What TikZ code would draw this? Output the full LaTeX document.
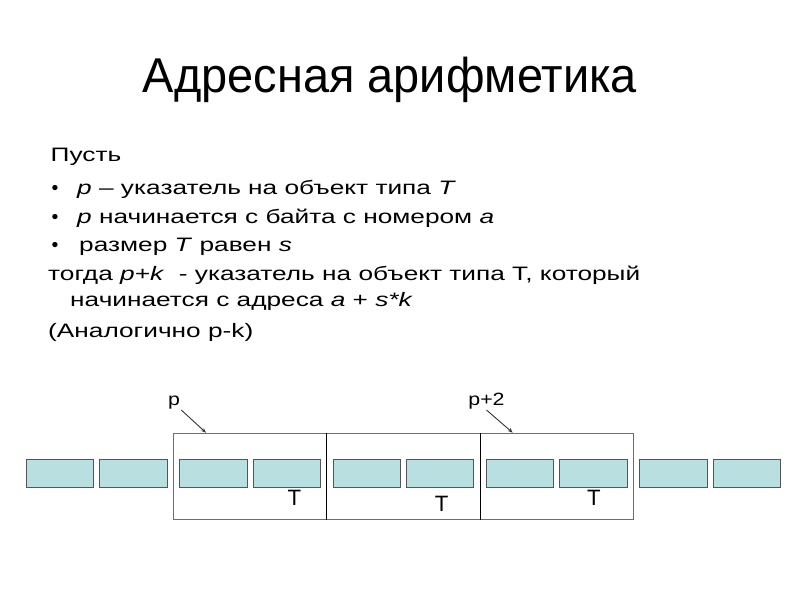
\documentclass[tikz,border=0pt]{standalone}
\usepackage{fontspec}
\setmainfont{Liberation Sans}
\newfontfamily\bodyfont[FakeStretch=1.35]{Liberation Sans}
\newfontfamily\labelfont[FakeStretch=1.2]{Liberation Sans}
\newfontfamily\titlefont[FakeStretch=0.96]{Liberation Sans}
\usetikzlibrary{arrows.meta}
\definecolor{cellfill}{HTML}{B9DFE1}
\definecolor{cellline}{HTML}{555555}
\definecolor{grpline}{HTML}{6E6E6E}
\tikzset{
  body/.style={anchor=base west,inner sep=0pt,font=\bodyfont\fontsize{17.5}{22}\selectfont},
  bul/.style={anchor=base,inner sep=0pt,font=\fontsize{17.5}{22}\selectfont},
  cell/.style={draw=cellline,line width=0.9pt,fill=cellfill,minimum width=60.5pt,minimum height=24.6pt,inner sep=0pt,anchor=north west},
  grp/.style={draw=grpline,line width=0.8pt,minimum width=138pt,minimum height=78pt,inner sep=0pt,anchor=north west},
  tlab/.style={anchor=base,inner sep=0pt,font=\fontsize{20}{24}\selectfont},
  plab/.style={anchor=base,inner sep=1pt,font=\labelfont\fontsize{16}{20}\selectfont},
  ptr/.style={draw=black!80,line width=0.8pt,-{Stealth[length=4.5pt,width=3.5pt]}}
}
\begin{document}
\begin{tikzpicture}[x=0.9pt,y=-0.9pt]
\useasboundingbox[fill=white] (0,0) rectangle (800,600);
% title
\node[anchor=base,inner sep=0pt,font=\titlefont\fontsize{44}{50}\selectfont] (title) at (390,92) {Адресная арифметика};
% body text
\node[body] (l1) at (50.5,161) {Пусть};
\node[bul] (d1) at (55,194) {•};
\node[body] (l2) at (77,194) {\textit{p} – указатель на объект типа \textit{T}};
\node[bul] (d2) at (55,223) {•};
\node[body] (l3) at (77,223) {\textit{p} начинается с байта с номером \textit{a}};
\node[bul] (d3) at (55,251) {•};
\node[body] (l4) at (79,251) {размер \textit{T} равен \textit{s}};
\node[body] (l5) at (48,280) {тогда \textit{p+k}\ \ - указатель на объект типа T, который};
\node[body] (l6) at (70,306) {начинается с адреса \textit{a} + \textit{s*k}};
\node[body] (l7) at (48,337) {(Аналогично p-k)};
% groups
\node[grp] (g1) at (172.7,432.7) {};
\node[grp] (g2) at (326.3,432.7) {};
\node[grp] (g3) at (479.9,432.7) {};
\draw[black,line width=0.9pt] (g1.north east) -- (g1.south east);
\draw[black,line width=0.9pt] (g2.north east) -- (g2.south east);
% cells
\foreach \i/\x in {1/26,2/99.3,3/179.3,4/252.7,5/332.7,6/406,7/486,8/559.3,9/639.3,10/712.7}{
  \node[cell] (c\i) at (\x,459.3) {};
}
% T labels
\node[tlab] (t1) at (294.5,505) {T};
\node[tlab] (t2) at (441.7,511.5) {T};
\node[tlab] (t3) at (594,505) {T};
% pointer labels
\node[plab] (pa) at (174,405) {p};
\node[plab] (pb) at (486.5,405) {p+2};
\coordinate (ha) at (206,432.7);
\coordinate (hb) at (512.7,432.7);
\draw[ptr] (pa.south east) -- (ha);
\draw[ptr] (pb.south) -- (hb);
\end{tikzpicture}
\end{document}
